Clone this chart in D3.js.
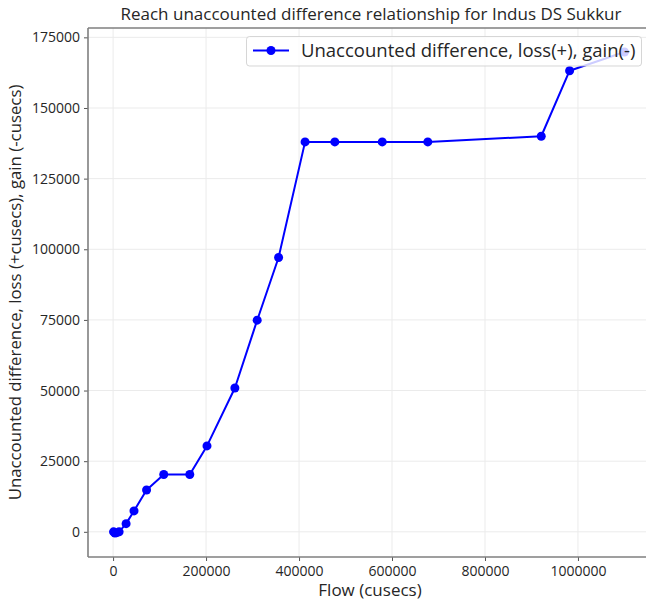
<!DOCTYPE html>
<html>
<head>
<meta charset="utf-8">
<script src="https://cdn.jsdelivr.net/npm/d3@7"></script>
<style>
  html, body { margin: 0; padding: 0; background: #fff; }
  svg { display: block; }
  text { font-family: "Open Sans", "DejaVu Sans", sans-serif; fill: #262626; }
</style>
</head>
<body>
<script>
// ---- data ----
const flow = [1000, 4000, 8000, 13000, 28000, 45000, 72000, 109000, 165000, 202000,
              262000, 310000, 356000, 413000, 477000, 579000, 677000, 921000, 982000, 1100000];
const difference = [0, -400, -300, 0, 2900, 7400, 14800, 20300, 20300, 30400,
                    50900, 74900, 97100, 138000, 138000, 138000, 138000, 140000, 163200, 169800];
const xTicks = [0, 200000, 400000, 600000, 800000, 1000000];
const yTicks = [0, 25000, 50000, 75000, 100000, 125000, 150000, 175000];
const titleText = "Reach unaccounted difference relationship for Indus DS Sukkur";
const xLabel = "Flow (cusecs)";
const yLabel = "Unaccounted difference, loss (+cusecs), gain (-cusecs)";
const seriesName = "Unaccounted difference, loss(+), gain(-)";

(function () {
// ---- layout ----
const W = 646, H = 605;
const pL = 88, pT = 28, pR = 650, pB = 557;
const blue = "#0000ff";

const svg = d3.select("body").append("svg").attr("width", W).attr("height", H);
svg.append("rect").attr("width", W).attr("height", H).attr("fill", "#fff");

// matplotlib-like 5% margins
const xmin = d3.min(flow), xmax = d3.max(flow);
const ymin = d3.min(difference), ymax = d3.max(difference);
const xm = (xmax - xmin) * 0.05, ym = (ymax - ymin) * 0.05;
const x = d3.scaleLinear().domain([xmin - xm, xmax + xm]).range([pL, pR]);
const y = d3.scaleLinear().domain([ymin - ym, ymax + ym]).range([pB, pT]);

// grid
const grid = svg.append("g");
grid.selectAll(".gx").data(xTicks).join("line")
  .attr("x1", d => x(d)).attr("x2", d => x(d)).attr("y1", pT).attr("y2", pB)
  .attr("stroke", "#ebebeb").attr("stroke-width", 1);
grid.selectAll(".gy").data(yTicks).join("line")
  .attr("x1", pL).attr("x2", pR).attr("y1", d => y(d)).attr("y2", d => y(d))
  .attr("stroke", "#ebebeb").attr("stroke-width", 1);

// series
const pts = flow.map((f, i) => [f, difference[i]]);
const line = d3.line().x(d => x(d[0])).y(d => y(d[1]));
svg.append("path").datum(pts).attr("d", line)
  .attr("fill", "none").attr("stroke", blue).attr("stroke-width", 2).attr("stroke-linejoin", "round");
svg.selectAll(".pt").data(pts).join("circle")
  .attr("cx", d => x(d[0])).attr("cy", d => y(d[1])).attr("r", 4.5).attr("fill", blue);

// axes
const xAxis = d3.axisBottom(x).tickValues(xTicks).tickFormat(d3.format("d")).tickSizeOuter(0).tickSize(4).tickPadding(5);
const yAxis = d3.axisLeft(y).tickValues(yTicks).tickFormat(d3.format("d")).tickSizeOuter(0).tickSize(4).tickPadding(4);
const gx = svg.append("g").attr("transform", `translate(0,${pB})`).call(xAxis);
const gy = svg.append("g").attr("transform", `translate(${pL},0)`).call(yAxis);
[gx, gy].forEach(g => {
  g.select(".domain").remove();
  g.selectAll(".tick line").attr("stroke", "#555").attr("stroke-width", 1);
  g.selectAll(".tick text").attr("font-size", 14).attr("fill", "#333")
    .style("font-family", '"Open Sans", sans-serif');
});

// spines
svg.append("line").attr("x1", pL).attr("x2", pL).attr("y1", pT).attr("y2", pB)
  .attr("stroke", "#7f7f7f").attr("stroke-width", 1.6);
svg.append("line").attr("x1", pL).attr("x2", pR).attr("y1", pB).attr("y2", pB)
  .attr("stroke", "#7f7f7f").attr("stroke-width", 1.6);
svg.append("line").attr("x1", pL).attr("x2", pR).attr("y1", pT).attr("y2", pT)
  .attr("stroke", "#7f7f7f").attr("stroke-width", 1.6);

// title and labels
svg.append("text").attr("x", 371).attr("y", 20).attr("text-anchor", "middle")
  .attr("font-size", 17).text(titleText);
svg.append("text").attr("x", 370).attr("y", 596).attr("text-anchor", "middle")
  .attr("font-size", 17).text(xLabel);
svg.append("text").attr("transform", `translate(21,${(pT + pB) / 2}) rotate(-90)`)
  .attr("text-anchor", "middle").attr("font-size", 16.8).text(yLabel);

// legend
const lg = svg.append("g");
lg.append("rect").attr("x", 246.5).attr("y", 36.5).attr("width", 395).attr("height", 29.5)
  .attr("rx", 3).attr("fill", "#fff").attr("fill-opacity", 0.8)
  .attr("stroke", "#cccccc").attr("stroke-opacity", 0.8);
lg.append("line").attr("x1", 253).attr("x2", 289).attr("y1", 50.5).attr("y2", 50.5)
  .attr("stroke", blue).attr("stroke-width", 2);
lg.append("circle").attr("cx", 271).attr("cy", 50.5).attr("r", 4.5).attr("fill", blue);
lg.append("text").attr("x", 301).attr("y", 57).attr("font-size", 18.5).text(seriesName);
})();
</script>
</body>
</html>
